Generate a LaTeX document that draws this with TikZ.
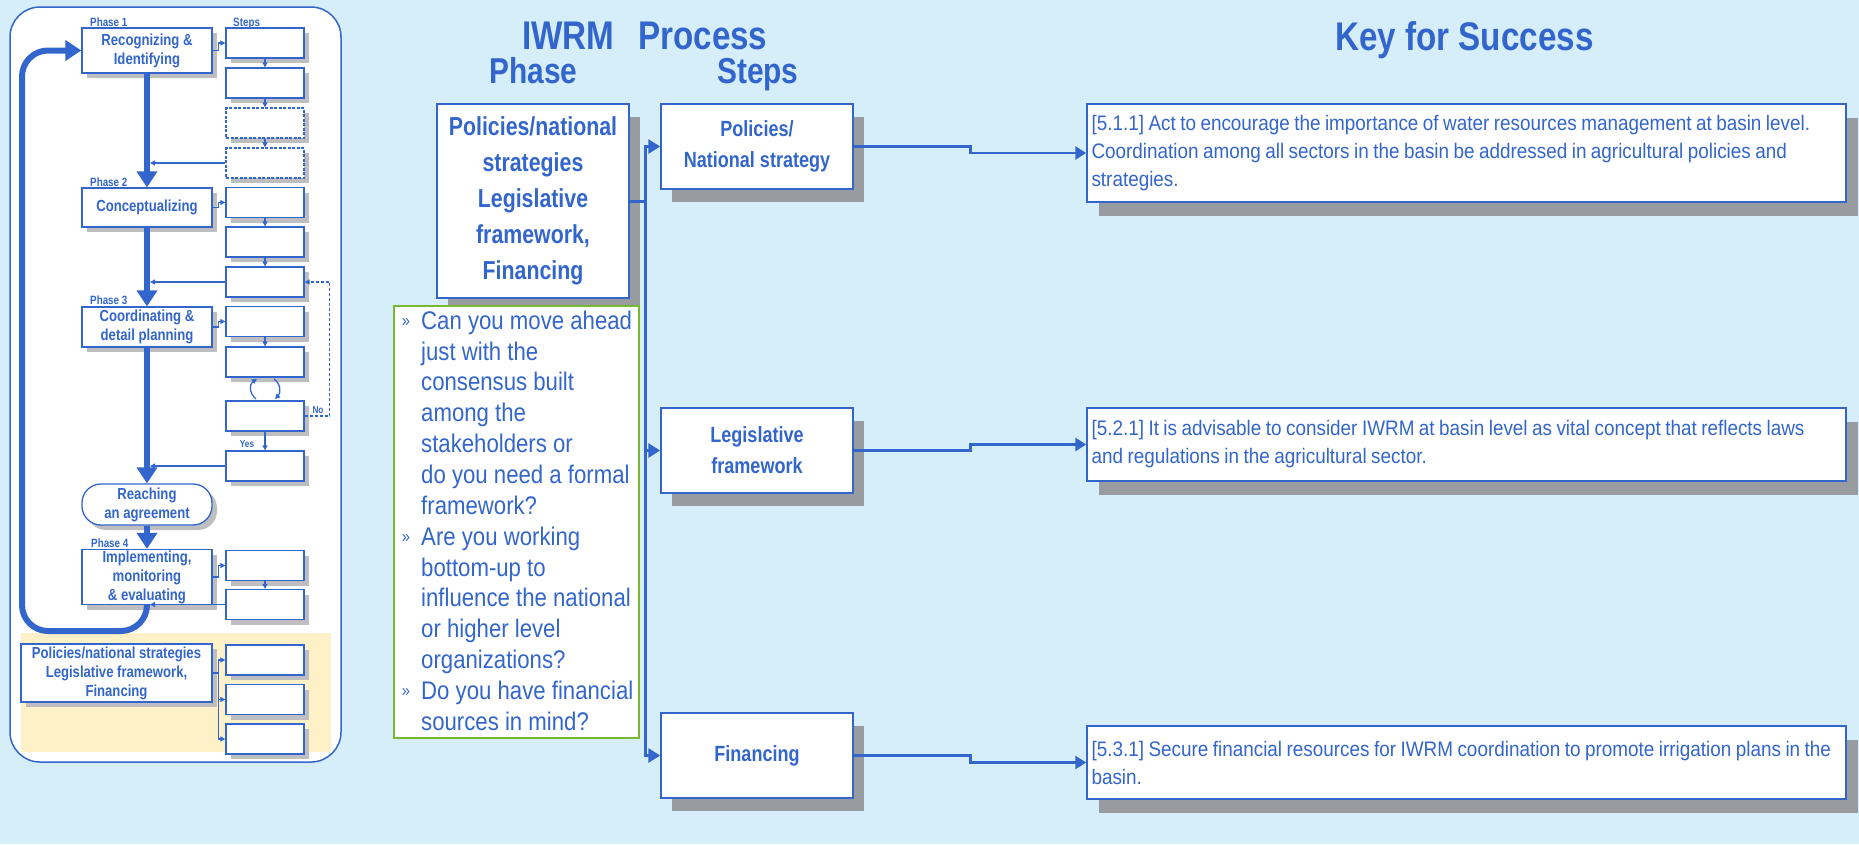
\documentclass[tikz,border=0pt]{standalone}
\usepackage{fontspec}
\setmainfont{Liberation Sans}
\newfontfamily\nar[FakeStretch=0.87]{Liberation Sans}
\newfontfamily\keyf[FakeStretch=0.9,WordSpace=0.85]{Liberation Sans}
\newfontfamily\narb[FakeStretch=0.82]{Liberation Sans}
\newfontfamily\tit[FakeStretch=0.83]{Liberation Sans}
\usetikzlibrary{arrows.meta,shadows,calc}
\definecolor{bg}{RGB}{214,237,250}
\definecolor{blu}{RGB}{51,102,204}
\definecolor{shd}{RGB}{152,156,160}
\definecolor{lshd}{RGB}{190,190,192}
\definecolor{grn}{RGB}{122,184,48}
\definecolor{yel}{RGB}{255,241,199}
\newcommand\myfs[2]{\fontsize{#1}{#2}\selectfont}
\newcommand\bul{\llap{\raisebox{3pt}{\myfs{17}{17}»}\hspace{11pt}}}
\begin{document}
\begin{tikzpicture}[x=1pt,y=-1pt,
  lbox/.style={draw=blu, line width=1.3pt, fill=white, text=blu, align=center, inner sep=1pt,
     font=\narb\bfseries\myfs{16}{19},
     general shadow={fill=lshd, shadow xshift=5pt, shadow yshift=-5pt}},
  lphase/.style={lbox, minimum width=130pt},
  lstep/.style={lbox, minimum width=78pt, minimum height=30pt},
  dstep/.style={lstep, dash pattern=on 3pt off 1.5pt},
  sarr/.style={draw=blu, line width=1.3pt, -{Triangle[length=5pt,width=5pt]}},
  thk/.style={draw=blu, line width=6pt, -{Triangle[length=16pt,width=20pt]}},
  small/.style={text=blu, font=\narb\bfseries\myfs{12}{14}, inner sep=0pt},
  tiny/.style={text=blu, font=\narb\bfseries\myfs{10}{12}, inner sep=0pt},
  mbox/.style={draw=blu, line width=1.5pt, fill=white, text=blu, align=center, inner sep=2pt,
     general shadow={fill=shd, shadow xshift=11pt, shadow yshift=-13pt}},
  kbox/.style={draw=blu, line width=1.5pt, fill=white, text=blu, align=flush left, inner sep=2pt,
     text width=750pt, font=\keyf\myfs{21}{28},
     general shadow={fill=shd, shadow xshift=12pt, shadow yshift=-14pt}},
  marr/.style={draw=blu, line width=3pt, -{Triangle[length=12pt,width=14pt]}},
  karr/.style={draw=blu, line width=2.8pt, -{Triangle[length=11pt,width=13pt]}},
  ttl/.style={text=blu, inner sep=0pt, anchor=base west}
]
% background
\fill[bg] (0,0) rectangle (1859,844);
\useasboundingbox (0,0) rectangle (1859,844);

% ---------------- left panel ----------------
\draw[blu, line width=1.5pt, fill=white, rounded corners=30pt] (10,7) rectangle (341,762);
\fill[yel] (21,633) rectangle (331,752);

\node[lphase, minimum height=45pt] (p1) at (147,50.5) {Recognizing \&\\Identifying};
\node[lphase, minimum height=39pt] (p2) at (147,207.5) {Conceptualizing};
\node[lphase, minimum height=40pt] (p3) at (147,327) {Coordinating \&\\detail planning};
\node[lphase, minimum height=41pt, rounded corners=19pt] (ra) at (147,504.5) {Reaching\\an agreement};
\node[lphase, minimum height=54pt] (p4) at (147,577) {Implementing,\\monitoring\\\& evaluating};
\node[lbox, minimum width=191pt, minimum height=58pt] (pol) at (116.5,673) {Policies/national strategies\\Legislative framework,\\Financing};

\node[small, anchor=base west] (ph1) at (90,26) {Phase 1};
\node[small, anchor=base west] (stl) at (233,26) {Steps};
\node[small, anchor=base west] (ph2) at (90,186) {Phase 2};
\node[small, anchor=base west] (ph3) at (90,304) {Phase 3};
\node[small, anchor=base west] (ph4) at (91,547) {Phase 4};

\foreach \n/\y in {s11/43, s12/83, s21/202.5, s22/242, s23/282, s31/321.5, s32/362, s33/416, s34/466, s41/565.5, s42/604.5, sp1/660, sp2/699.5, sp3/739}
  \node[lstep] (\n) at (265,\y) {};
\node[dstep] (s13) at (265,123) {};
\node[dstep] (s14) at (265,163) {};

% phase -> first step
\draw[sarr] (p1.east) -- ++(6,0) |- (s11.west);
\draw[sarr] (p2.east) -- ++(6,0) |- (s21.west);
\draw[sarr] (p3.east) -- ++(6,0) |- (s31.west);
\draw[sarr] (p4.east) -- ++(6,0) |- (s41.west);
\draw[sarr] (pol.east) -- ++(6,0) |- (sp1.west);
\draw[sarr] (pol.east) -- ++(6,0) |- (sp2.west);
\draw[sarr] (pol.east) -- ++(6,0) |- (sp3.west);

% step -> step
\foreach \a/\b in {s11/s12, s12/s13, s13/s14, s21/s22, s22/s23, s31/s32, s33/s34, s41/s42}
  \draw[sarr] (\a.south) -- (\b.north);

% steps back to main line
\foreach \a in {s14, s23, s34, s42}
  \draw[sarr, shorten >=3pt] (\a.west) -- (\a.west -| p1.south);

% feedback loop (dashed)
\draw[sarr, dash pattern=on 3pt off 2pt] (s33.east) -- ++(25,0) |- (s23.east);
\node[tiny] (no) at (318,410) {No};
\node[tiny] (yes) at (247,444) {Yes};

% circular arrows
\draw[sarr] (256,399) .. controls (249,393) and (249,384) .. (257,379);
\draw[sarr] (274,379) .. controls (281,384) and (281,393) .. (275,399);

% thick phase flow
\draw[thk] (p1.south) -- (p2.north);
\draw[thk] (p2.south) -- (p3.north);
\draw[thk] (p3.south) -- (ra.north);
\draw[thk] (ra.south) -- (p4.north);
\draw[thk, rounded corners=26pt] (p4.south) -- (147,631) -- (22,631) -- (22,50.5) -- (p1.west);

% ---------------- middle ----------------
\node[ttl, font=\tit\bfseries\myfs{40}{48}] (t1) at (522,49) {IWRM};
\node[ttl, font=\tit\bfseries\myfs{40}{48}] (t2) at (638,49) {Process};
\node[ttl, font=\tit\bfseries\myfs{36}{42}] (t3) at (489,83) {Phase};
\node[ttl, font=\tit\bfseries\myfs{36}{42}] (t4) at (717,83) {Steps};
\node[ttl, font=\tit\bfseries\myfs{40}{48}] (t5) at (1335,50) {Key for Success};

\node[mbox, minimum width=192pt, minimum height=194pt, font=\narb\bfseries\myfs{26}{36}] (bp) at (533,201)
  {Policies/national\\strategies\\Legislative\\framework,\\Financing};

\node[draw=grn, line width=2pt, fill=white, minimum width=245pt, minimum height=432pt, inner sep=0pt] (gq) at (516.5,522) {};
\node[anchor=north west, align=left, text=blu, font=\nar\myfs{25.5}{30.85}, inner sep=0pt] (gqt) at (421,307.4)
  {\strut\bul Can you move ahead\\
   just with the\\
   consensus built\\
   among the\\
   stakeholders or\\
   do you need a formal\\
   framework?\\
   \bul Are you working\\
   bottom-up to\\
   influence the national\\
   or higher level\\
   organizations?\\
   \bul Do you have financial\\
   sources in mind?};

\node[mbox, minimum width=192pt, minimum height=85pt, font=\narb\bfseries\myfs{22}{31}] (m1) at (757,146.5) {Policies/\\National strategy};
\node[mbox, minimum width=192pt, minimum height=85pt, font=\narb\bfseries\myfs{22}{31}] (m2) at (757,450.5) {Legislative\\framework};
\node[mbox, minimum width=192pt, minimum height=85pt, font=\narb\bfseries\myfs{22}{31}] (m3) at (757,755.5) {Financing};

\draw[marr] (bp.east) -- ++(16,0) |- (m1.west);
\draw[marr] (bp.east) -- ++(16,0) |- (m2.west);
\draw[marr] (bp.east) -- ++(16,0) |- (m3.west);

% ---------------- right ----------------
\node[kbox, minimum width=759pt, minimum height=98pt] (k1) at (1466.5,153)
  {[5.1.1] Act to encourage the importance of water resources management at basin level.\\Coordination among all sectors in the basin be addressed in agricultural policies and\\strategies.};
\node[kbox, minimum width=759pt, minimum height=73pt] (k2) at (1466.5,444.5)
  {[5.2.1] It is advisable to consider IWRM at basin level as vital concept that reflects laws\\and regulations in the agricultural sector.};
\node[kbox, minimum width=759pt, minimum height=73pt] (k3) at (1466.5,762.5)
  {[5.3.1] Secure financial resources for IWRM coordination to promote irrigation plans in the\\basin.};

\draw[karr] (m1.east) -- ++(117,0) |- (k1.west);
\draw[karr] (m2.east) -- ++(117,0) |- (k2.west);
\draw[karr] (m3.east) -- ++(117,0) |- (k3.west);
\end{tikzpicture}
\end{document}
